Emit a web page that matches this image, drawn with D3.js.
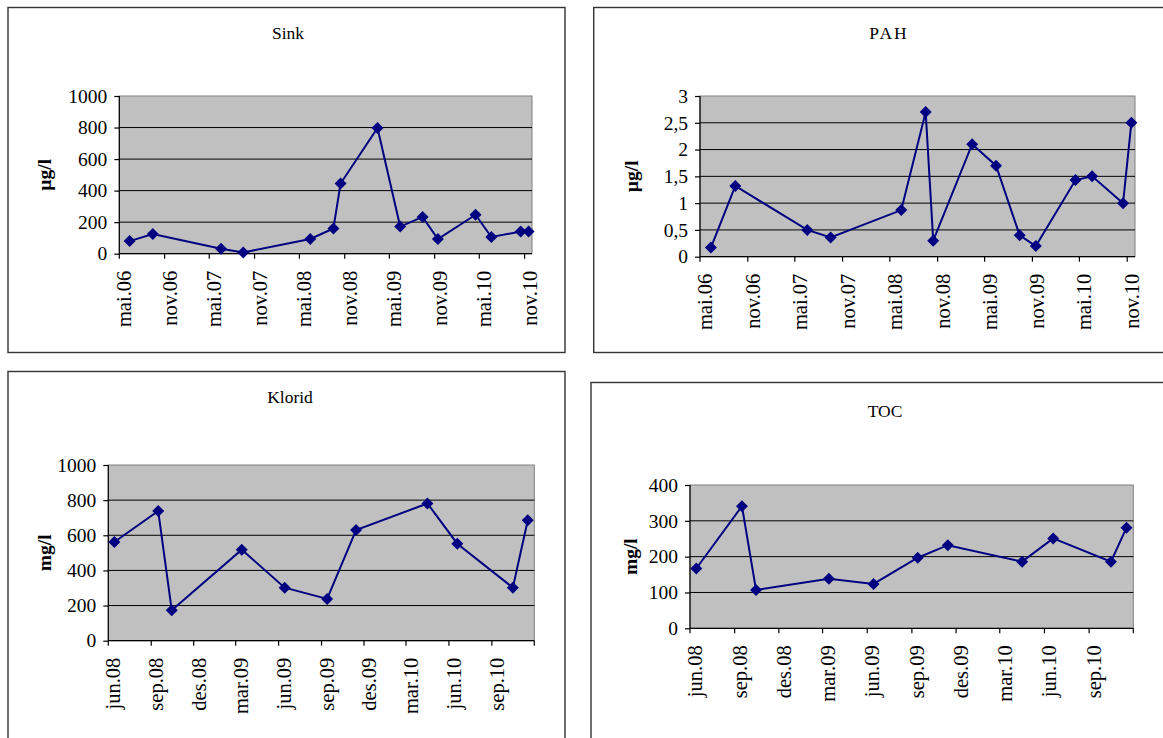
<html>
  <head>
    <title>Sink, PAH, Klorid, TOC</title>
    <script src="https://d3js.org/d3.v7.min.js"></script>
    <style>
      body {
        margin: 0;
        background: #fff;
      }
      text {
        font-family: "Liberation Serif", "Times New Roman", serif;
        fill: #000;
      }
      .frame {
        fill: #fff;
        stroke: #333;
        stroke-width: 1.4px;
      }
      .plotbg {
        fill: #c0c0c0;
        stroke: #808080;
        stroke-width: 1px;
      }
      .grid {
        stroke: #000;
        stroke-width: 1px;
      }
      .axisline {
        stroke: #000;
        stroke-width: 1.2px;
      }
      .series {
        fill: none;
        stroke: #000080;
        stroke-width: 2px;
      }
      .marker {
        fill: #000080;
      }
    </style>
  </head>
  <body>
    <svg id="chart" width="1163" height="738"></svg>

    <script>
      // sampling dates
      const datesA = [
        "2006-06-12", "2006-09-14", "2007-06-18", "2007-09-16",
        "2008-06-14", "2008-09-16", "2008-10-15", "2009-03-14",
        "2009-06-14", "2009-09-13", "2009-11-14", "2010-04-16",
        "2010-06-19", "2010-10-16", "2010-11-17",
      ];
      const datesB = [
        "2008-06-14", "2008-09-16", "2008-10-15", "2009-03-14",
        "2009-06-14", "2009-09-13", "2009-11-14", "2010-04-16",
        "2010-06-19", "2010-10-16", "2010-11-17",
      ];

      // values
      const sink = [80, 125, 32, 8, 93, 160, 445, 797, 172, 233, 93, 247, 106, 140, 140];
      const pah = [0.17, 1.32, 0.5, 0.36, 0.87, 2.7, 0.3, 2.1, 1.7, 0.4, 0.2, 1.43, 1.5, 1.0, 2.5];
      const klorid = [562, 738, 173, 518, 302, 238, 630, 781, 552, 302, 686];
      const toc = [167, 341, 107, 138, 124, 197, 232, 186, 251, 186, 281];

      // x axis ticks and labels
      const ticksA = [
        "2006-05-01", "2006-11-01", "2007-05-01", "2007-11-01", "2008-05-01",
        "2008-11-01", "2009-05-01", "2009-11-01", "2010-05-01", "2010-11-01",
      ];
      const labelsA = [
        "mai.06", "nov.06", "mai.07", "nov.07", "mai.08",
        "nov.08", "mai.09", "nov.09", "mai.10", "nov.10",
      ];
      const ticksB = [
        "2008-06-01", "2008-09-01", "2008-12-01", "2009-03-01", "2009-06-01",
        "2009-09-01", "2009-12-01", "2010-03-01", "2010-06-01", "2010-09-01",
        "2010-12-01",
      ];
      const labelsB = [
        "jun.08", "sep.08", "des.08", "mar.09", "jun.09",
        "sep.09", "des.09", "mar.10", "jun.10", "sep.10", "",
      ];

      // y axis ticks
      const yTicksSink = [0, 200, 400, 600, 800, 1000];
      const yTicksPah = [0, 0.5, 1, 1.5, 2, 2.5, 3];
      const yTicksKlorid = [0, 200, 400, 600, 800, 1000];
      const yTicksToc = [0, 100, 200, 300, 400];

      const parseDate = d3.timeParse("%Y-%m-%d");
      // Norwegian style numbers: comma decimal, no grouping
      const noFmt = d3.formatLocale({
        decimal: ",",
        thousands: "",
        grouping: [3],
        currency: ["", " kr"],
      }).format("~g");

      const svg = d3.select("#chart");

      const panels = [
        {
          title: "Sink", unit: "µg/l", dates: datesA, values: sink,
          ticks: ticksA, labels: labelsA, yTicks: yTicksSink,
          xDomain: ["2006-05-01", "2010-12-01"],
          box: [8, 7.5, 557, 345], plot: [119.3, 96, 412.7, 157.7],
          titleX: 288, titleY: 39, unitX: 51,
        },
        {
          title: "PAH", unit: "µg/l", dates: datesA, values: pah,
          ticks: ticksA, labels: labelsA, yTicks: yTicksPah,
          xDomain: ["2006-05-01", "2010-12-01"],
          box: [593.7, 7.5, 600, 345], plot: [700, 96, 435, 160.7],
          titleX: 889, titleY: 39, unitX: 638, spaced: true,
        },
        {
          title: "Klorid", unit: "mg/l", dates: datesB, values: klorid,
          ticks: ticksB, labels: labelsB, yTicks: yTicksKlorid,
          xDomain: ["2008-06-01", "2010-12-01"],
          box: [8, 371.5, 557, 400], plot: [108.3, 465, 426, 175.7],
          titleX: 290, titleY: 403, unitX: 51,
        },
        {
          title: "TOC", unit: "mg/l", dates: datesB, values: toc,
          ticks: ticksB, labels: labelsB, yTicks: yTicksToc,
          xDomain: ["2008-06-01", "2010-12-01"],
          box: [591, 382.5, 600, 400], plot: [690, 485, 443.3, 143.3],
          titleX: 885, titleY: 417, unitX: 637,
        },
      ];

      const drawPanel = function (p) {
        const g = svg.append("g");
        const [px, py, pw, ph] = p.plot;

        g.append("rect")
          .attr("class", "frame")
          .attr("x", p.box[0])
          .attr("y", p.box[1])
          .attr("width", p.box[2])
          .attr("height", p.box[3]);

        g.append("text")
          .attr("x", p.titleX)
          .attr("y", p.titleY)
          .attr("text-anchor", "middle")
          .attr("font-size", 17.5)
          .attr("letter-spacing", p.spaced ? "2px" : null)
          .text(p.title);

        const x = d3
          .scaleTime()
          .domain(p.xDomain.map(parseDate))
          .range([px, px + pw]);
        const y = d3
          .scaleLinear()
          .domain([0, d3.max(p.yTicks)])
          .range([py + ph, py]);

        g.append("rect")
          .attr("class", "plotbg")
          .attr("x", px)
          .attr("y", py)
          .attr("width", pw)
          .attr("height", ph);

        // gridlines
        g.selectAll("line.grid")
          .data(p.yTicks.slice(1, -1))
          .join("line")
          .attr("class", "grid")
          .attr("x1", px)
          .attr("x2", px + pw)
          .attr("y1", (d) => y(d))
          .attr("y2", (d) => y(d));

        // y axis
        const yAxis = d3
          .axisLeft(y)
          .tickValues(p.yTicks)
          .tickSize(5)
          .tickPadding(7)
          .tickFormat(noFmt);
        const ya = g
          .append("g")
          .attr("transform", "translate(" + px + ",0)")
          .call(yAxis)
          .attr("font-family", null)
          .attr("font-size", 19.5);
        ya.select(".domain").remove();
        ya.selectAll(".tick line").attr("stroke", "#000").attr("stroke-width", 1.2);

        // x axis
        const tickDates = p.ticks.map(parseDate);
        const xa = g.append("g");
        xa.selectAll("line.xtick")
          .data(tickDates)
          .join("line")
          .attr("class", "xtick")
          .attr("stroke", "#000")
          .attr("stroke-width", 1.2)
          .attr("x1", (d) => x(d))
          .attr("x2", (d) => x(d))
          .attr("y1", py + ph)
          .attr("y2", py + ph + 5);
        xa.selectAll("text.xlab")
          .data(tickDates)
          .join("text")
          .attr("class", "xlab")
          .attr("font-size", 20.5)
          .attr("text-anchor", "end")
          .attr(
            "transform",
            (d) => "translate(" + (x(d) + 12) + "," + (py + ph + 17) + ") rotate(-90)"
          )
          .text((d, i) => p.labels[i]);

        g.append("line")
          .attr("class", "axisline")
          .attr("x1", px)
          .attr("x2", px)
          .attr("y1", py)
          .attr("y2", py + ph);
        g.append("line")
          .attr("class", "axisline")
          .attr("x1", px)
          .attr("x2", px + pw)
          .attr("y1", py + ph)
          .attr("y2", py + ph);

        // unit label
        g.append("text")
          .attr("font-size", 19.5)
          .attr("font-weight", "bold")
          .attr("text-anchor", "middle")
          .attr(
            "transform",
            "translate(" + p.unitX + "," + (py + ph / 2) + ") rotate(-90)"
          )
          .text(p.unit);

        // series
        const pts = p.values.map((v, i) => ({ date: parseDate(p.dates[i]), value: v }));
        const line = d3
          .line()
          .x((d) => x(d.date))
          .y((d) => y(d.value));
        g.append("path").datum(pts).attr("class", "series").attr("d", line);

        g.selectAll("path.marker")
          .data(pts)
          .join("path")
          .attr("class", "marker")
          .attr("d", d3.symbol(d3.symbolSquare, 72))
          .attr(
            "transform",
            (d) => "translate(" + x(d.date) + "," + y(d.value) + ") rotate(45)"
          );
      };

      panels.forEach(drawPanel);
    </script>
  </body>
</html>
